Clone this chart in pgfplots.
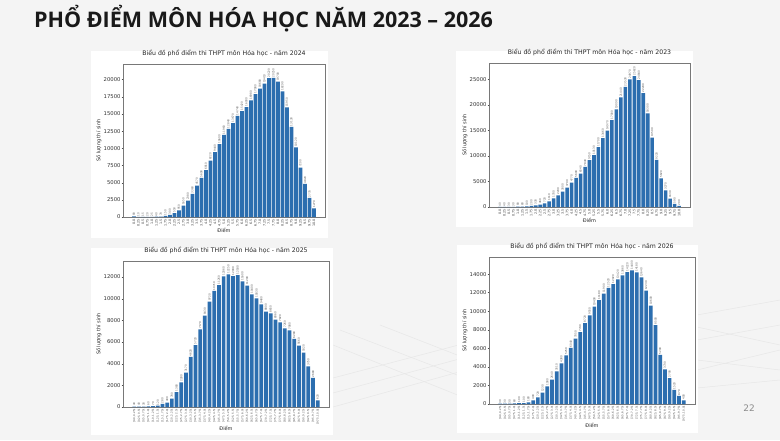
\documentclass[border=0pt]{standalone}
\usepackage{fontspec}
\setmainfont{DejaVu Sans}
\newfontfamily\titlefont{Open Sans}
\usepackage{pgfplots}
\pgfplotsset{compat=1.18}
\definecolor{bg}{RGB}{244,244,244}
\definecolor{barc}{RGB}{44,110,175}
\definecolor{framec}{RGB}{120,120,120}
\definecolor{gridc}{RGB}{231,231,231}
\pgfplotsset{
  chart/.style={
    scale only axis, anchor=south west,
    ybar,
    axis line style={framec, line width=0.5pt},
    tick style={black!70, line width=0.3pt},
    major tick length=1.3pt, tick align=outside,
    xtick pos=lower, ytick pos=left,
    xtick={0,...,40},
    ymin=0,
    scaled y ticks=false,
    /pgf/number format/1000 sep={},
    /pgf/number format/assume math mode=true,
    yticklabel style={font=\fontsize{5.3}{6}\selectfont, color=black!80, inner sep=1pt},
    xticklabel style={rotate=90, anchor=east, font=\fontsize{2.6}{3}\selectfont, color=black!75, inner sep=0.8pt},
    title style={font=\fontsize{6.2}{7}\selectfont, color=black!85, at={(0.5,1)}, anchor=south, yshift=0pt, inner sep=1.5pt},
    xlabel={Điểm}, ylabel={Số lượng thí sinh},
    label style={font=\fontsize{5}{6}\selectfont, color=black!85},
    xlabel style={inner sep=1pt},
    ylabel style={inner sep=1pt},
    nodes near coords,
    every node near coord/.append style={rotate=90, anchor=west, font=\fontsize{2.7}{3}\selectfont, color=black!65, inner sep=0.5pt},
  },
  barstyle/.style={fill=barc, draw=none},
  labsA/.style={xticklabel style={font=\fontsize{3.3}{4}\selectfont},
    xticklabels={0.0,0.25,0.5,0.75,1.0,1.25,1.5,1.75,2.0,2.25,2.5,2.75,3.0,3.25,3.5,3.75,4.0,4.25,4.5,4.75,5.0,5.25,5.5,5.75,6.0,6.25,6.5,6.75,7.0,7.25,7.5,7.75,8.0,8.25,8.5,8.75,9.0,9.25,9.5,9.75,10.0}},
  labsB/.style={xticklabels={{[0.0, 0.25)},{[0.25, 0.5)},{[0.5, 0.75)},{[0.75, 1.0)},{[1.0, 1.25)},{[1.25, 1.5)},{[1.5, 1.75)},{[1.75, 2.0)},{[2.0, 2.25)},{[2.25, 2.5)},{[2.5, 2.75)},{[2.75, 3.0)},{[3.0, 3.25)},{[3.25, 3.5)},{[3.5, 3.75)},{[3.75, 4.0)},{[4.0, 4.25)},{[4.25, 4.5)},{[4.5, 4.75)},{[4.75, 5.0)},{[5.0, 5.25)},{[5.25, 5.5)},{[5.5, 5.75)},{[5.75, 6.0)},{[6.0, 6.25)},{[6.25, 6.5)},{[6.5, 6.75)},{[6.75, 7.0)},{[7.0, 7.25)},{[7.25, 7.5)},{[7.5, 7.75)},{[7.75, 8.0)},{[8.0, 8.25)},{[8.25, 8.5)},{[8.5, 8.75)},{[8.75, 9.0)},{[9.0, 9.25)},{[9.25, 9.5)},{[9.5, 9.75)},{[9.75, 10.0]}}},
}
\begin{document}
\begin{tikzpicture}
\useasboundingbox (0pt,0pt) rectangle (780pt,440pt);
\fill[bg] (0pt,0pt) rectangle (780pt,440pt);
% faint perspective grid decoration
\begin{scope}[gridc, line width=0.5pt, x=1pt, y=1pt]
\draw (333,47) -- (500,92);
\draw (333,33) -- (520,85);
\draw (333,62) -- (470,98);
\draw (340,110) -- (470,60);
\draw (380,115) -- (470,80);
\draw (333,95) -- (470,40);
\draw (697,113) -- (780,95);
\draw (697,80) -- (780,70);
\draw (697,52) -- (780,60);
\draw (697,125) -- (780,140);
\draw (697,100) -- (780,115);
\draw (697,70) -- (780,90);
\end{scope}
% panels
\fill[white] (91pt,202pt) rectangle (328pt,389pt);
\fill[white] (456pt,213pt) rectangle (693pt,389pt);
\fill[white] (91pt,5pt) rectangle (333pt,192pt);
\fill[white] (457pt,7pt) rectangle (698pt,195pt);
% title
\node[anchor=base west, inner sep=0pt, text=black!90] at (34pt,412pt) {\titlefont\bfseries\fontsize{21.5}{26}\selectfont PHỔ ĐIỂM MÔN HÓA HỌC NĂM 2023 – 2026};
\node[text=black!45, inner sep=0pt] at (749pt,32pt) {\fontsize{9}{10}\selectfont 22};

% 2024
\begin{axis}[chart, labsA, at={(123pt,223pt)}, width=202pt, height=153pt,
  bar width=3.55pt,
  xmin=-2.44, xmax=42.44, ymax=22275,
  ytick={0,2500,5000,7500,10000,12500,15000,17500,20000},
  title={Biểu đồ phổ điểm thi THPT môn Hóa học - năm 2024}]
\addplot[barstyle] table {
x y
0 80
1 10
2 15
3 20
4 25
5 40
6 70
7 150
8 300
9 550
10 950
11 1650
12 2380
13 3360
14 4570
15 5690
16 6810
17 8220
18 9440
19 10600
20 11960
21 12840
22 13670
23 14740
24 15420
25 16000
26 16980
27 17900
28 18680
29 19410
30 20220
31 20250
32 19700
33 18290
34 15950
35 13130
36 10120
37 7200
38 4820
39 2770
40 1270
};
\end{axis}

% 2023
\begin{axis}[chart, labsA, at={(489pt,233pt)}, width=201pt, height=144pt,
  bar width=3.55pt,
  xmin=-2.44, xmax=42.44, ymax=28180,
  ytick={0,5000,10000,15000,20000,25000},
  title={Biểu đồ phổ điểm thi THPT môn Hóa học - năm 2023}]
\addplot[barstyle] table {
x y
0 40
1 40
2 30
3 30
4 80
5 80
6 100
7 200
8 330
9 460
10 720
11 1110
12 1700
13 2290
14 3000
15 3790
16 4770
17 5690
18 6540
19 7840
20 9150
21 10130
22 11700
23 13460
24 14970
25 17000
26 19090
27 21440
28 23530
29 24970
30 25620
31 24840
32 22290
33 18300
34 13590
35 9220
36 5620
37 3270
38 1630
39 590
40 200
};
\end{axis}

% 2025
\begin{axis}[chart, labsB, at={(123pt,33pt)}, width=206pt, height=146pt,
  bar width=3.7pt,
  xmin=-2.39, xmax=41.39, ymax=13475, xtick={0,...,39},
  ytick={0,2000,4000,6000,8000,10000,12000},
  title={Biểu đồ phổ điểm thi THPT môn Hóa học - năm 2025}]
\addplot[barstyle] table {
x y
0 40
1 40
2 30
3 60
4 70
5 120
6 280
7 400
8 780
9 1380
10 2280
11 3170
12 4620
13 5720
14 7170
15 8430
16 9720
17 10710
18 11260
19 12060
20 12250
21 12090
22 12180
23 11600
24 11200
25 10400
26 10030
27 9480
28 8800
29 8650
30 8060
31 7820
32 7260
33 7080
34 6280
35 5660
36 5020
37 3750
38 2680
39 620
};
\end{axis}

% 2026
\begin{axis}[chart, labsB, at={(489pt,36pt)}, width=206pt, height=147pt,
  bar width=3.7pt,
  xmin=-2.39, xmax=41.39, ymax=15840, xtick={0,...,39},
  ytick={0,2000,4000,6000,8000,10000,12000,14000},
  title={Biểu đồ phổ điểm thi THPT môn Hóa học - năm 2026}]
\addplot[barstyle] table {
x y
0 30
1 30
2 30
3 60
4 100
5 100
6 180
7 400
8 720
9 1230
10 1900
11 2640
12 3510
13 4380
14 5250
15 6040
16 7050
17 7740
18 8720
19 9550
20 10490
21 11180
22 11900
23 12520
24 12920
25 13420
26 13860
27 14220
28 14400
29 14180
30 13640
31 12230
32 10600
33 8500
34 5290
35 3730
36 2790
37 1520
38 870
39 400
};
\end{axis}
\end{tikzpicture}
\end{document}
